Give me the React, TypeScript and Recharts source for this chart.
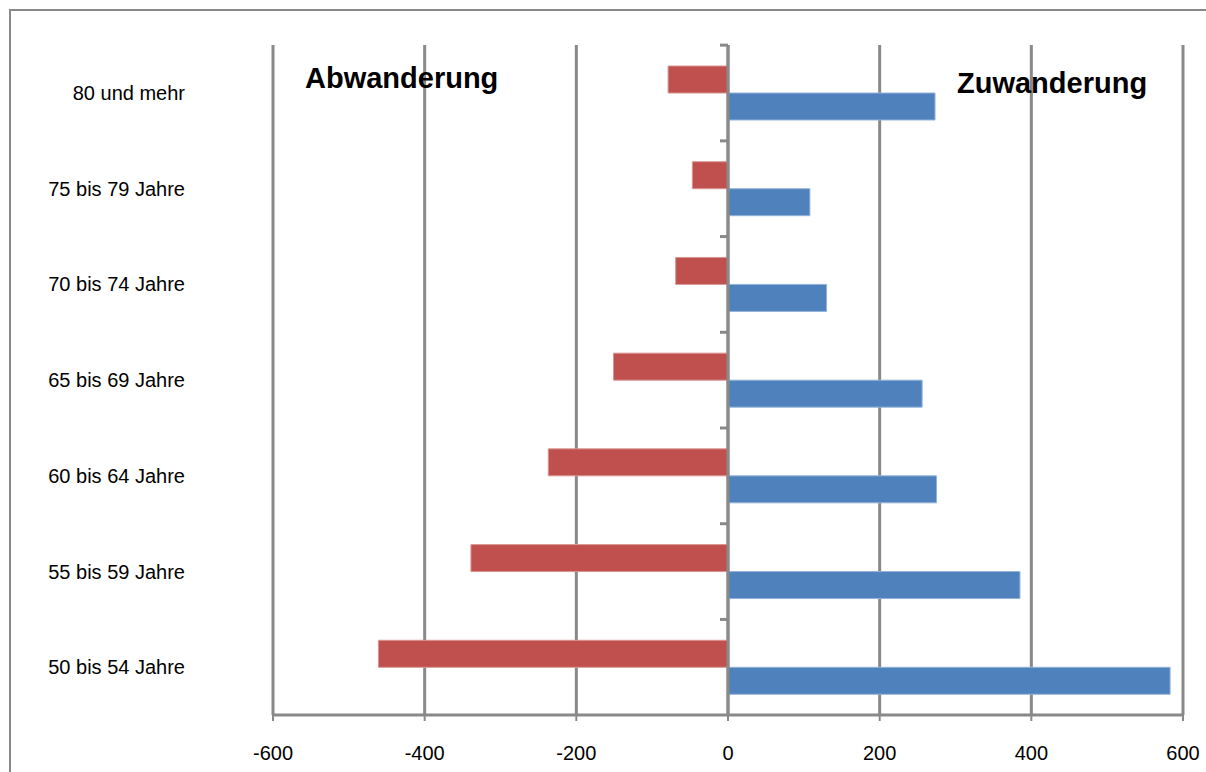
import { Bar, BarChart, CartesianGrid, ReferenceLine, Rectangle, XAxis, YAxis } from "recharts";

const ageGroups = [
	"80 und mehr",
	"75 bis 79 Jahre",
	"70 bis 74 Jahre",
	"65 bis 69 Jahre",
	"60 bis 64 Jahre",
	"55 bis 59 Jahre",
	"50 bis 54 Jahre",
];
const abwanderung = [-79, -47, -69, -151, -237, -339, -461];
const zuwanderung = [273, 108, 130, 256, 275, 385, 583];
const xTicks = [-600, -400, -200, 0, 200, 400, 600];

const data = ageGroups.map((name, i) => ({
	name,
	abwanderung: abwanderung[i],
	zuwanderung: zuwanderung[i],
}));

const grey = "#898989";
const font = "'Liberation Sans', Arial, sans-serif";

const chartH = 772;
const marginTop = 45;
const xAxisH = 57;
const bandHalf = (chartH - marginTop - xAxisH) / ageGroups.length / 2;

// blue bar starts on the zero line and its top is the band centre,
// so its shape also draws the small divider tick at the top of the band
function ZuShape(props: any) {
	const { x, y, width, height, fill, stroke } = props;
	const top = y - bandHalf;
	return (
		<g>
			<Rectangle fill={fill} height={height} stroke={stroke} strokeWidth={1} width={width} x={x} y={y} />
			<line stroke={grey} strokeWidth={3} x1={x - 8} x2={x} y1={top} y2={top} />
		</g>
	);
}

export default function App() {
	return (
		<div
			style={{
				position: "fixed",
				left: 0,
				top: 0,
				width: 1206,
				height: 772,
				overflow: "hidden",
				background: "#fff",
				fontFamily: font,
			}}
		>
			<div
				style={{
					position: "absolute",
					left: 9,
					top: 9,
					width: 1500,
					height: 1000,
					border: `2px solid ${grey}`,
				}}
			/>
			<div style={{ position: "absolute", left: 0, top: 0 }}>
				<BarChart
					data={data}
					height={chartH}
					layout="vertical"
					margin={{ top: marginTop, right: 23, bottom: 0, left: 0 }}
					width={1206}
					barGap={0}
					barSize={27}
				>
					<CartesianGrid horizontal={false} stroke={grey} strokeWidth={3} />
					<XAxis
						axisLine={{ stroke: grey, strokeWidth: 3 }}
						domain={[-600, 600]}
						height={xAxisH}
						tick={{ fill: "#000", fontSize: 20, fontFamily: font }}
						tickLine={{ stroke: grey, strokeWidth: 2 }}
						tickMargin={25}
						tickSize={6}
						ticks={xTicks}
						type="number"
					/>
					<YAxis
						axisLine={false}
						dataKey="name"
						tick={{ fill: "#000", fontSize: 20, fontFamily: font }}
						tickLine={false}
						tickMargin={82}
						type="category"
						width={273}
					/>
					<Bar
						dataKey="abwanderung"
						fill="#C0504D"
						isAnimationActive={false}
						stroke="#D99694"
						strokeWidth={1}
					/>
					<Bar
						dataKey="zuwanderung"
						fill="#4F81BD"
						isAnimationActive={false}
						shape={ZuShape}
						stroke="#95B3D7"
						strokeWidth={1}
					/>
					<ReferenceLine stroke={grey} strokeWidth={3} x={0} />
				</BarChart>
			</div>
			<svg
				height={772}
				style={{ position: "absolute", left: 0, top: 0, pointerEvents: "none" }}
				width={1206}
			>
				<text fill="#000" fontFamily={font} fontSize={29} fontWeight="bold" x={305} y={88}>
					Abwanderung
				</text>
				<text fill="#000" fontFamily={font} fontSize={29} fontWeight="bold" x={957} y={93}>
					Zuwanderung
				</text>
			</svg>
		</div>
	);
}
